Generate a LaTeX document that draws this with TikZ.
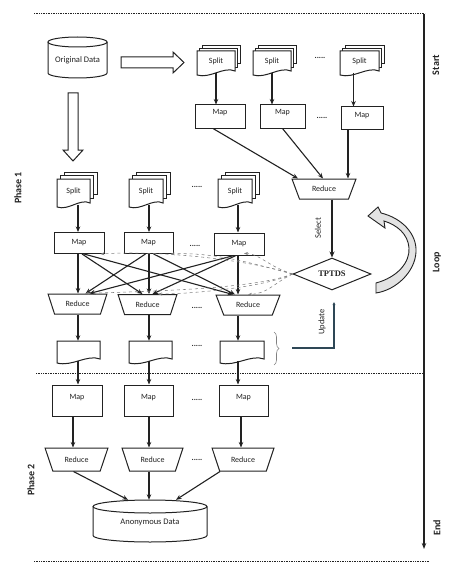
\documentclass[tikz,border=0pt]{standalone}
\usepackage{fontspec}
\setmainfont{Carlito}
\newfontfamily\tptfont{Liberation Serif}
\usetikzlibrary{shapes.geometric,arrows.meta,decorations.pathreplacing,calc}
\definecolor{ink}{HTML}{222222}
\definecolor{upd}{HTML}{2E4756}
\tikzset{
  mapbox/.style={draw=ink, line width=1pt, fill=white, inner sep=0, text=ink, font=\fontsize{8}{9}\selectfont},
  reduce/.style={trapezium, shape border rotate=180, trapezium stretches=true,
    trapezium left angle=#1, trapezium right angle=#1, draw=ink, line width=1pt,
    fill=white, inner sep=0, text=ink, font=\fontsize{8}{9}\selectfont},
  arr/.style={draw=ink, line width=1.1pt, -{Stealth[length=5.5pt,width=4.5pt]}},
  dashc/.style={draw=gray, dashed, line width=0.55pt, -{Stealth[length=4pt,width=3pt]}},
  dotline/.style={draw=ink, line width=1pt, dash pattern=on 0.8pt off 0.9pt},
  sidelab/.style={font=\bfseries\fontsize{10}{12}\selectfont, rotate=90, text=ink},
  dotstxt/.style={font=\bfseries\fontsize{8}{9}\selectfont, text=ink, inner sep=0},
  txtnode/.style={inner sep=0, text=ink, font=\fontsize{8}{9}\selectfont},
}
\newcommand\docshape[4]{%
  \filldraw[draw=ink, line width=1pt, fill=white] ({#1},{#2}) -- ({#3},{#2}) -- ({#3},{#4-4})
    .. controls ({#3-0.3*(#3-#1)},{#4-9}) and ({#1+0.35*(#3-#1)},{#4+4}) .. ({#1},{#4}) -- cycle;}
\newcommand\stackdoc[7]{%
  \filldraw[draw=ink, line width=1pt, fill=white] ({#2+2*#6},{#3-2*#6}) rectangle ({#4+2*#6},{#5-2*#6-6});
  \filldraw[draw=ink, line width=1pt, fill=white] ({#2+#6},{#3-#6}) rectangle ({#4+#6},{#5-#6-5});
  \docshape{#2}{#3}{#4}{#5}
  \node[txtnode, minimum width={#4-#2}, minimum height={#5-#3-2.4}] (#1) at ({(#2+#4)/2},{(#3+#5-2.4)/2}) {#7};}
\newcommand\singledoc[5]{%
  \docshape{#2}{#3}{#4}{#5}
  \node[txtnode, minimum width={#4-#2}, minimum height={#5-#3-2.4}] (#1) at ({(#2+#4)/2},{(#3+#5-2.4)/2}) {};}
\begin{document}
\begin{tikzpicture}[x=1pt, y=-1pt]
\useasboundingbox (0,0) rectangle (450,567);
% ---------- frame / timeline
\draw[dotline] (34,14) -- (425,14);
\draw[dotline] (36,373) -- (424,373);
\draw[dotline] (34,561) -- (430,561);
\coordinate (tl0) at (424,14);
\coordinate (tl1) at (424,549);
\draw[draw=ink, line width=1.3pt, -{Stealth[length=6pt,width=4.5pt]}] (tl0) -- (tl1);
\node[sidelab] (lstart) at (436,65) {Start};
\node[sidelab] (lloop) at (437,262) {Loop};
\node[sidelab] (lend) at (437,528) {End};
\node[sidelab] (lph1) at (18,188) {Phase 1};
\node[sidelab] (lph2) at (31,480) {Phase 2};
% ---------- Original data cylinder
\filldraw[draw=ink, line width=1pt, fill=white] (48,42) -- (48,73) .. controls (48,75.76) and (61.2,78) .. (77.5,78)
  .. controls (93.8,78) and (107,75.76) .. (107,73) -- (107,42);
\draw[draw=ink, line width=1pt] (77.5,42) ellipse [x radius=29.5, y radius=5];
\node[txtnode, minimum width=59, minimum height=36, font=\fontsize{8.5}{10}\selectfont] (od) at (77.5,60) {Original Data};
% hollow arrows
\filldraw[draw=ink, line width=1pt, fill=white] (121,57) -- (173,57) -- (173,52) -- (184,62.5) -- (173,73) -- (173,68) -- (121,68) -- cycle;
\filldraw[draw=ink, line width=1pt, fill=white] (68,93) -- (78,93) -- (78,150) -- (83,150) -- (73,161) -- (63,150) -- (68,150) -- cycle;
% ---------- top row
\stackdoc{ts1}{197}{51}{235}{75}{2.5}{Split}
\stackdoc{ts2}{253}{51}{291}{75}{2.5}{Split}
\stackdoc{ts3}{340}{51}{379}{75}{2.5}{Split}
\node[dotstxt] (dt1) at (320,58) {.....};
\node[mapbox, minimum width=50, minimum height=23, text height=6pt, text depth=9pt] (tm1) at (220,116.5) {Map};
\node[mapbox, minimum width=45, minimum height=23, text height=6pt, text depth=9pt] (tm2) at (282.5,116.5) {Map};
\node[mapbox, minimum width=42, minimum height=22, text height=6pt, text depth=7pt] (tm3) at (362,118) {Map};
\node[dotstxt] (dt2) at (322,118) {.....};
\node[reduce=57, minimum width=64, minimum height=20] (tr) at (324,189) {Reduce};
\draw[arr] (ts1.south) -- (ts1.south |- tm1.north);
\draw[arr] (ts2.south) -- (ts2.south |- tm2.north);
\coordinate (a3) at ([xshift=-6]ts3.south);
\draw[arr] (a3) -- (a3 |- tm3.north);
\draw[arr] ([xshift=-7]tm1.south) -- ([xshift=-26]tr.north);
\draw[arr] (tm2.south) -- ([xshift=-1]tr.north);
\coordinate (c3) at ([xshift=-14]tm3.south);
\draw[arr] (c3) -- (c3 |- tr.north);
% ---------- TPTDS
\node[diamond, draw=ink, line width=1pt, fill=white, aspect=2.4, minimum width=78, minimum height=32, inner sep=0,
  text=ink, font=\tptfont\bfseries\fontsize{8.5}{10}\selectfont] (T) at (332,274) {TPTDS};
\draw[draw=ink, line width=2.2pt, -{Stealth[length=6pt,width=5pt]}] (T.north |- tr.south) -- (T.north);
\node[txtnode, rotate=90, font=\fontsize{8.5}{10}\selectfont] (lsel) at (318,228) {Select};
% curved block arrow
\filldraw[draw=ink, line width=0.9pt, fill=gray!22] (376,283) .. controls (398,277) and (410,262) .. (409,248)
  .. controls (408,234) and (397,225) .. (384,221) -- (385,228) -- (368,216) -- (378,207) -- (381,213)
  .. controls (402,218) and (417,234) .. (416,252) .. controls (415,272) and (396,290) .. (376,293) -- cycle;
% ---------- lower splits / maps / reduces
\stackdoc{s1}{57}{179}{90}{207}{3.5}{Split}
\stackdoc{s2}{129}{179}{163}{207}{3.5}{Split}
\stackdoc{s3}{218}{179}{252}{207}{3.5}{Split}
\node[dotstxt] (dt3) at (197,187) {.....};
\node[mapbox, minimum width=50, minimum height=21] (m1) at (79,243) {Map};
\node[mapbox, minimum width=49, minimum height=21] (m2) at (148.5,243) {Map};
\node[mapbox, minimum width=50, minimum height=22] (m3) at (239,244) {Map};
\node[dotstxt] (dt4) at (195,246) {.....};
\node[reduce=59, minimum width=59, minimum height=20] (r1) at (77.5,304) {Reduce};
\node[reduce=59, minimum width=59, minimum height=20] (r2) at (147.5,304.5) {Reduce};
\node[reduce=56, minimum width=64, minimum height=20] (r3) at (248,305) {Reduce};
\node[dotstxt] (dt5) at (197,308) {.....};
\singledoc{d1}{57}{341}{100}{363}
\singledoc{d2}{129}{341}{172}{363}
\singledoc{d3}{220}{341}{264}{363}
\node[dotstxt] (dt6) at (197,346) {.....};
\coordinate (col1) at (78,0);
\coordinate (col2) at (149,0);
\coordinate (col3) at (238,0);
\draw[arr] (col1 |- s1.south) -- (col1 |- m1.north);
\draw[arr] (col2 |- s2.south) -- (col2 |- m2.north);
\draw[arr] (col3 |- s3.south) -- (col3 |- m3.north);
\draw[arr] (col1 |- m1.south) -- (col1 |- r1.north);
\draw[arr] (col2 |- m2.south) -- (col2 |- r2.north);
\draw[arr] (col3 |- m3.south) -- (col3 |- r3.north);
\draw[arr] ([xshift=3]m1.south) -- ([xshift=-5]r2.north);
\draw[arr] ([xshift=5]m1.south) -- ([xshift=-15]r3.north);
\draw[arr] ([xshift=-3]m2.south) -- ([xshift=8]r1.north);
\draw[arr] ([xshift=5]m2.south) -- ([xshift=-13]r3.north);
\draw[arr] ([xshift=-5]m3.south) -- ([xshift=12]r1.north);
\draw[arr] ([xshift=-3]m3.south) -- ([xshift=5]r2.north);
\draw[arr] (col1 |- r1.south) -- (col1 |- d1.north);
\draw[arr] (col2 |- r2.south) -- (col2 |- d2.north);
\draw[arr] (col3 |- r3.south) -- (col3 |- d3.north);
% dashed feedback curves
\draw[dashc] (T.west) .. controls +(-43,-14) and +(60,-4) .. ([xshift=-4]m1.south east);
\draw[dashc] (T.west) .. controls +(-38,-10) and +(45,-2) .. ([xshift=-3]m2.south east);
\draw[dashc] (T.west) .. controls +(-25,-8) and +(15,0) .. ([xshift=5,yshift=2]m3.south);
\draw[dashc] (T.west) .. controls +(-20,10) and +(20,-1) .. (r3.north);
\draw[dashc] (T.west) .. controls +(-30,14) and +(30,0) .. (r2.north east);
\draw[dashc] (T.west) .. controls +(-40,16) and +(50,-2) .. ([xshift=-3]r1.north east);
% brace and update
\draw[draw=gray, line width=0.6pt, decorate, decoration={brace, amplitude=5pt}] (274,332) -- (274,365);
\coordinate (ub) at (292,348);
\coordinate (ue) at (334,302);
\draw[draw=upd, line width=2.6pt, -{Triangle[length=3pt,width=2.6pt]}] (ub) -| (ue);
\node[txtnode, rotate=90, font=\fontsize{8.5}{10}\selectfont] (lupd) at (322,322) {Update};
% ---------- phase 2
\node[mapbox, minimum width=50, minimum height=31, text height=6pt, text depth=8pt] (pm1) at (77,400.5) {Map};
\node[mapbox, minimum width=49, minimum height=31, text height=6pt, text depth=8pt] (pm2) at (148.5,400.5) {Map};
\node[mapbox, minimum width=49, minimum height=31, text height=6pt, text depth=8pt] (pm3) at (243.5,400.5) {Map};
\node[dotstxt] (dt7) at (197,400) {.....};
\node[reduce=55, minimum width=63, minimum height=23] (pr1) at (76.5,459.5) {Reduce};
\node[reduce=55, minimum width=61, minimum height=23] (pr2) at (152.5,459.5) {Reduce};
\node[reduce=55, minimum width=62, minimum height=23] (pr3) at (243,459.5) {Reduce};
\node[dotstxt] (dt8) at (197,460) {.....};
\draw[arr] (col1 |- d1.south) -- (col1 |- pm1.north);
\draw[arr] (col2 |- d2.south) -- (col2 |- pm2.north);
\draw[arr] (col3 |- d3.south) -- (col3 |- pm3.north);
\coordinate (q1) at (73,0);
\coordinate (q3) at (241,0);
\draw[arr] (q1 |- pm1.south) -- (q1 |- pr1.north);
\draw[arr] (col2 |- pm2.south) -- (col2 |- pr2.north);
\draw[arr] (q3 |- pm3.south) -- (q3 |- pr3.north);
% anonymous data cylinder
\filldraw[draw=ink, line width=1pt, fill=white] (93,506.5) -- (93,535.5) .. controls (93,539.1) and (118.5,542) .. (150,542)
  .. controls (181.5,542) and (207,539.1) .. (207,535.5) -- (207,506.5);
\draw[draw=ink, line width=1pt] (150,506.5) ellipse [x radius=57, y radius=6.5];
\node[txtnode, minimum width=114, minimum height=42, text height=6pt, text depth=0pt, font=\fontsize{8.5}{10}\selectfont] (ad) at (150,521) {Anonymous Data};
\draw[arr] ([xshift=-3]pr1.south) -- ([xshift=-22]ad.north);
\draw[arr] (col2 |- pr2.south) -- (col2 |- ad.north);
\draw[arr] ([xshift=-23]pr3.south) -- ([xshift=26]ad.north);
\end{tikzpicture}
\end{document}
